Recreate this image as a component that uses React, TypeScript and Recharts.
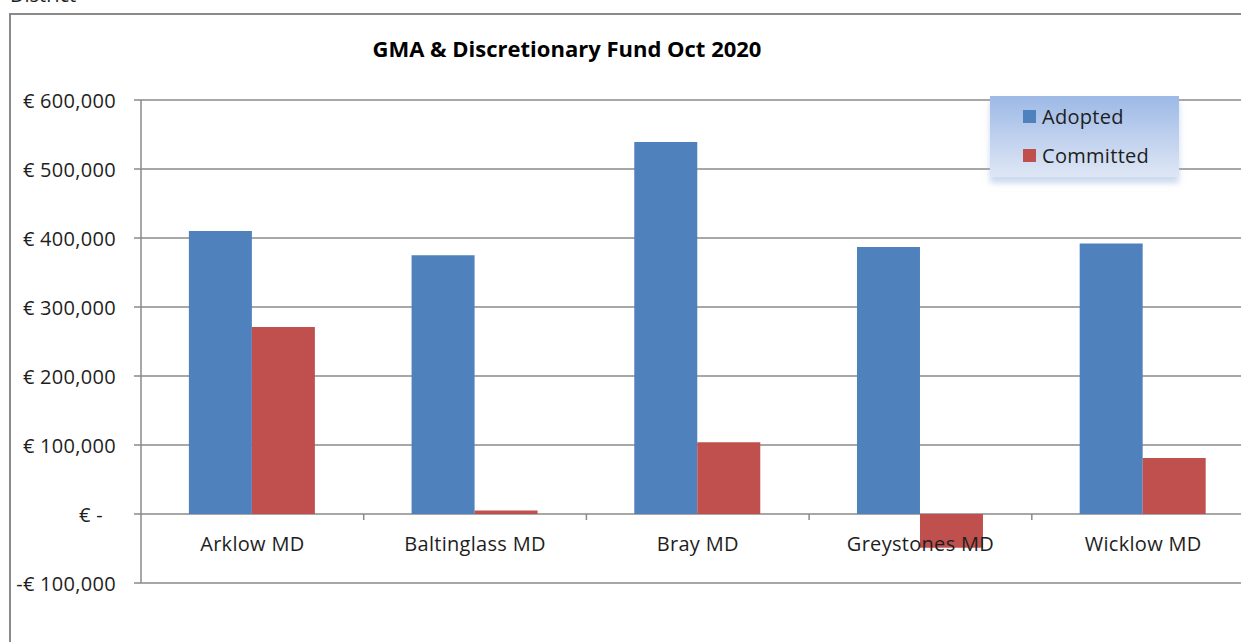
import React from "react";
import { BarChart, Bar, XAxis, YAxis, CartesianGrid, Legend } from "recharts";

const categories = ["Arklow MD", "Baltinglass MD", "Bray MD", "Greystones MD", "Wicklow MD"];
const adopted = [410000, 375000, 539000, 387000, 392000];
const committed = [271000, 5000, 104000, -49000, 81000];
const yTicks = [-100000, 0, 100000, 200000, 300000, 400000, 500000, 600000];

const Y_MIN = -100000;
const Y_MAX = 600000;
const PLOT_LEFT = 141;
const PLOT_TOP = 100;
const PLOT_BOTTOM = 583;
const PLOT_W = 1113.5;
const CHART_W = 1300;
const CHART_H = 642;
const X_AXIS_H = 30;
const ZERO_Y = PLOT_TOP + ((PLOT_BOTTOM - PLOT_TOP) * Y_MAX) / (Y_MAX - Y_MIN);

const FONT = "'Open Sans', 'Noto Sans', sans-serif";
const GRID = "#8a8a8a";
const TEXT = "#1e1e1e";

const data = categories.map((name, i) => ({ name, Adopted: adopted[i], Committed: committed[i] }));

const fmtEuro = (v: number) => {
  if (v === 0) return "€ -";
  const s = Math.abs(v).toLocaleString("en-US");
  return v < 0 ? `-€ ${s}` : `€ ${s}`;
};

const YTick = (props: any) => {
  const { x, y, payload } = props;
  const v = payload.value as number;
  return (
    <text
      x={x}
      y={y}
      dx={v === 0 ? -13 : 0}
      textAnchor="end"
      dominantBaseline="central"
      fontFamily={FONT}
      fontSize={20}
      letterSpacing={0.3}
      fill={TEXT}
    >
      {fmtEuro(v)}
    </text>
  );
};

// category labels sit under the zero line, not at the bottom of the plot
const XTick = (props: any) => {
  const { x, payload, index } = props;
  const band = PLOT_W / categories.length;
  const left = x - band / 2;
  return (
    <g>
      {index > 0 && <line x1={left} x2={left} y1={ZERO_Y} y2={ZERO_Y + 6} stroke={GRID} strokeWidth={1.5} />}
      <text
        x={x}
        y={ZERO_Y + 29}
        textAnchor="middle"
        dominantBaseline="central"
        fontFamily={FONT}
        fontSize={20}
        letterSpacing={0.3}
        fill={TEXT}
      >
        {payload.value}
      </text>
    </g>
  );
};

const LegendBox = (props: any) => {
  const items = props.payload || [];
  return (
    <div
      style={{
        width: 189,
        height: 81,
        boxSizing: "border-box",
        background: "linear-gradient(#9db9e6, #dfe7f5)",
        boxShadow: "0 6px 6px rgba(160,185,225,0.55)",
        paddingTop: 1,
        paddingLeft: 33,
        fontFamily: FONT,
        fontSize: 20,
        letterSpacing: 0.3,
        color: TEXT,
      }}
    >
      {items.map((it: any) => (
        <div key={it.value} style={{ display: "flex", alignItems: "center", height: 39 }}>
          <span style={{ width: 13, height: 13, background: it.color, marginRight: 6, display: "inline-block" }} />
          {it.value}
        </div>
      ))}
    </div>
  );
};

export default function App() {
  return (
    <div style={{ position: "absolute", left: 0, top: 0, width: 1241, height: 642, overflow: "hidden", background: "#fff" }}>
      <div style={{ position: "absolute", left: 10, top: -19, fontFamily: FONT, fontSize: 20, color: TEXT }}>District</div>
      <div
        style={{
          position: "absolute",
          left: 9,
          top: 13,
          width: 1300,
          height: 700,
          borderLeft: "2px solid #8a8a8a",
          borderTop: "2px solid #8a8a8a",
        }}
      />
      <div
        style={{
          position: "absolute",
          left: 372,
          top: 33,
          width: 390,
          textAlign: "center",
          fontFamily: FONT,
          fontWeight: 700,
          fontSize: 22,
          color: "#000",
          whiteSpace: "nowrap",
        }}
      >
        GMA &amp; Discretionary Fund Oct 2020
      </div>
      <div style={{ position: "absolute", left: 0, top: 0, width: CHART_W, height: CHART_H }}>
        <BarChart
          width={CHART_W}
          height={CHART_H}
          data={data}
          margin={{ top: PLOT_TOP, right: CHART_W - PLOT_LEFT - PLOT_W, bottom: CHART_H - PLOT_BOTTOM - X_AXIS_H, left: 0 }}
          barCategoryGap="21.5%"
          barGap={0}
        >
          <CartesianGrid vertical={false} stroke={GRID} strokeWidth={1.5} />
          <XAxis dataKey="name" height={X_AXIS_H} axisLine={false} tickLine={false} tick={<XTick />} interval={0} />
          <YAxis
            width={PLOT_LEFT}
            domain={[Y_MIN, Y_MAX]}
            ticks={yTicks}
            interval={0}
            axisLine={{ stroke: GRID, strokeWidth: 1.5 }}
            tickLine={{ stroke: GRID, strokeWidth: 1.5 }}
            tickSize={7}
            tickMargin={18}
            tick={<YTick />}
          />
          <Legend
            layout="vertical"
            align="center"
            verticalAlign="middle"
            content={<LegendBox />}
            wrapperStyle={{ left: 990, top: 96, width: 189, height: 81 }}
          />
          <Bar dataKey="Adopted" fill="#4F81BD" isAnimationActive={false} />
          <Bar dataKey="Committed" fill="#C0504D" isAnimationActive={false} />
        </BarChart>
      </div>
    </div>
  );
}
